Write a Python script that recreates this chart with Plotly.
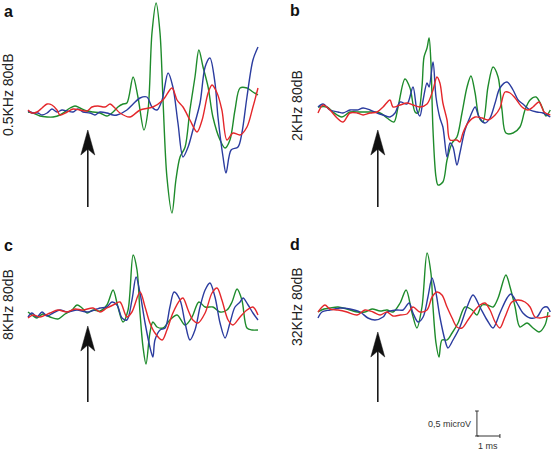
import plotly.graph_objects as go

W, H = 553, 450
PX_PER_MS = 23.0
PX_PER_UV = 50.0
STIM_MS = 2.6

GREEN = "#1e8b2b"
BLUE = "#2b3c9f"
RED = "#e4272b"

# ---------------- Panel a: 0.5 kHz 80 dB ----------------
a_green_t = [0, 0.22, 0.52, 0.83, 1.09, 1.39, 1.83, 2.04, 2.26, 2.57, 2.83, 3.13, 3.43, 3.70, 3.91, 4.13, 4.30, 4.57, 4.78, 5.04, 5.22, 5.39, 5.57, 5.74, 5.87, 6.04, 6.26, 6.43, 6.61, 6.83, 7.04, 7.26, 7.43, 7.61, 7.83, 8.04, 8.35, 8.57, 8.78, 9.00, 9.22, 9.52, 9.78, 10.0]
a_green_v = [-0.08, -0.10, -0.16, -0.18, -0.18, -0.14, 0.00, 0.04, 0.00, -0.06, -0.08, -0.10, -0.16, -0.08, 0.02, 0.08, 0.10, 0.62, 0.22, -0.44, -0.04, 1.50, 2.10, 1.50, 0.16, -1.38, -2.10, -1.44, -0.98, -0.78, -0.04, 0.62, 1.16, 0.82, 0.42, -0.18, -0.64, -0.80, -0.64, -0.04, 0.40, 0.40, 0.32, 0.26]
a_blue_t = [0, 0.22, 0.43, 0.61, 0.83, 1.04, 1.26, 1.48, 1.70, 1.96, 2.17, 2.39, 2.70, 2.91, 3.13, 3.43, 3.70, 3.87, 4.30, 4.57, 4.87, 5.17, 5.39, 5.61, 5.83, 6.09, 6.30, 6.52, 6.74, 6.96, 7.17, 7.48, 7.70, 7.91, 8.13, 8.26, 8.48, 8.61, 8.83, 9.13, 9.30, 9.52, 9.78, 10.0]
a_blue_v = [-0.06, -0.10, -0.10, -0.14, -0.10, -0.02, -0.08, -0.04, -0.06, -0.08, -0.02, -0.08, -0.10, -0.14, -0.08, -0.10, -0.14, -0.14, -0.04, 0.08, 0.20, 0.22, 0.02, -0.04, 0.16, 0.70, 0.42, -0.30, -0.98, -0.78, -0.44, 0.10, 0.82, 1.00, 0.50, -0.18, -0.98, -1.30, -0.84, -0.78, -0.50, 0.22, 0.96, 1.22]
a_red_t = [0, 0.17, 0.39, 0.61, 0.83, 1.04, 1.26, 1.39, 1.70, 1.96, 2.26, 2.57, 2.78, 3.04, 3.35, 3.57, 3.78, 4.00, 4.43, 4.87, 5.43, 5.87, 6.26, 6.48, 6.74, 7.04, 7.35, 7.57, 7.83, 8.00, 8.22, 8.43, 8.65, 8.91, 9.22, 9.52, 9.78, 10.0]
a_red_v = [-0.04, -0.10, -0.08, 0.00, 0.08, 0.06, -0.04, -0.14, -0.08, -0.02, -0.04, -0.06, 0.02, 0.04, 0.02, 0.08, 0.00, -0.10, -0.18, -0.04, 0.02, 0.16, 0.40, 0.16, 0.02, -0.24, -0.48, -0.24, 0.30, 0.46, 0.30, -0.04, -0.64, -0.50, -0.54, -0.38, 0.02, 0.40]

# ---------------- Panel b: 2 kHz 80 dB ----------------
b_green_t = [0, 0.39, 0.65, 1.04, 1.39, 1.83, 2.26, 2.70, 3.00, 3.30, 3.48, 3.78, 4.00, 4.22, 4.35, 4.52, 4.61, 4.74, 4.83, 4.91, 5.00, 5.13, 5.22, 5.43, 5.61, 5.83, 6.04, 6.26, 6.48, 6.65, 6.83, 7.00, 7.17, 7.39, 7.61, 7.83, 8.00, 8.17, 8.48, 8.78, 9.00, 9.22, 9.48, 9.74, 9.91, 10.1]
b_green_v = [0.02, 0.02, -0.08, -0.18, -0.08, -0.08, -0.08, -0.10, -0.20, -0.28, 0.02, 0.58, 0.40, -0.08, -0.10, 0.42, 1.02, 1.20, 1.40, 0.90, -0.44, -1.38, -1.54, -1.48, -1.04, -0.70, -0.58, -0.10, 0.42, 0.64, 0.30, -0.18, -0.28, 0.42, 0.82, 0.62, -0.04, -0.50, -0.50, -0.38, -0.04, 0.16, 0.22, 0.02, -0.16, -0.04]
b_blue_t = [0, 0.22, 0.52, 0.87, 1.09, 1.39, 1.70, 1.96, 2.26, 2.57, 2.83, 3.13, 3.35, 3.57, 3.87, 4.13, 4.30, 4.43, 4.57, 4.74, 4.83, 5.00, 5.13, 5.30, 5.43, 5.61, 5.74, 5.87, 6.04, 6.17, 6.39, 6.61, 6.83, 7.00, 7.26, 7.48, 7.70, 7.91, 8.22, 8.48, 8.70, 8.91, 9.22, 9.52, 9.78, 10.1]
b_blue_v = [0.02, 0.08, -0.04, -0.08, -0.10, -0.04, -0.04, 0.00, -0.04, -0.10, -0.14, -0.18, -0.10, 0.12, 0.08, 0.42, -0.04, -0.16, 0.16, 0.50, 0.42, 0.92, 0.22, -0.20, -0.38, -0.98, -0.70, -0.78, -1.14, -0.90, -0.44, -0.18, 0.02, -0.18, -0.30, -0.20, 0.10, 0.40, 0.52, 0.36, 0.16, 0.08, -0.04, -0.08, -0.10, -0.18]
b_red_t = [0, 0.22, 0.52, 0.83, 1.09, 1.39, 1.70, 1.96, 2.26, 2.57, 2.83, 3.13, 3.26, 3.57, 3.87, 4.13, 4.43, 4.74, 5.00, 5.17, 5.30, 5.43, 5.61, 5.74, 6.04, 6.17, 6.30, 6.52, 6.83, 7.13, 7.39, 7.70, 7.91, 8.13, 8.35, 8.57, 8.87, 9.13, 9.35, 9.61, 9.83, 10.1]
b_red_v = [-0.10, 0.06, -0.04, -0.20, -0.28, -0.10, -0.10, -0.14, -0.10, -0.08, 0.02, 0.16, 0.02, 0.06, 0.10, 0.06, 0.02, 0.08, 0.36, 0.62, 0.50, 0.10, -0.24, -0.64, -0.64, -0.68, -0.50, -0.30, -0.18, -0.20, -0.24, -0.14, 0.00, 0.32, 0.30, 0.20, 0.02, -0.04, 0.02, 0.12, -0.08, -0.14]

# ---------------- Panel c: 8 kHz 80 dB ----------------
c_green_t = [0, 0.17, 0.39, 0.65, 0.96, 1.30, 1.61, 1.91, 2.13, 2.35, 2.57, 2.83, 3.13, 3.43, 3.70, 3.91, 4.13, 4.35, 4.57, 4.74, 4.87, 5.00, 5.13, 5.30, 5.43, 5.61, 5.87, 6.17, 6.48, 6.83, 7.13, 7.43, 7.70, 8.04, 8.35, 8.65, 8.87, 9.09, 9.30, 9.52, 9.74, 10.0]
c_green_v = [0.10, 0.04, -0.02, 0.06, 0.00, -0.04, 0.06, 0.14, 0.24, 0.18, 0.08, 0.14, 0.12, 0.24, 0.54, 0.20, -0.10, 0.14, 1.24, 0.94, 0.08, -0.60, -0.94, -0.32, -0.10, -0.20, -0.22, -0.06, 0.04, -0.16, 0.00, 0.30, 0.20, 0.20, 0.10, 0.14, 0.30, 0.56, 0.34, -0.22, -0.26, -0.26]
c_blue_t = [0, 0.17, 0.39, 0.61, 0.83, 1.09, 1.39, 1.70, 2.13, 2.57, 3.00, 3.13, 3.43, 3.65, 3.87, 4.09, 4.30, 4.52, 4.70, 4.87, 5.09, 5.30, 5.43, 5.52, 5.74, 5.96, 6.17, 6.35, 6.61, 6.83, 7.04, 7.26, 7.48, 7.70, 7.91, 8.13, 8.35, 8.57, 8.78, 9.00, 9.22, 9.35, 9.57, 9.78, 10.0]
c_blue_v = [0.00, 0.08, 0.00, 0.10, 0.02, 0.08, 0.14, 0.10, 0.14, 0.10, 0.16, 0.18, 0.20, 0.30, 0.24, -0.02, -0.06, 0.34, 0.80, 0.48, -0.12, -0.60, -0.80, -0.46, -0.26, -0.22, 0.20, 0.50, 0.34, -0.12, -0.46, -0.26, 0.20, 0.54, 0.68, 0.40, -0.12, -0.42, -0.12, 0.20, 0.30, 0.38, 0.24, 0.08, -0.06]
c_red_t = [0, 0.22, 0.52, 0.96, 1.30, 1.70, 2.04, 2.39, 2.83, 3.13, 3.43, 3.70, 4.00, 4.30, 4.52, 4.87, 5.09, 5.30, 5.52, 5.83, 6.04, 6.30, 6.61, 6.74, 6.96, 7.17, 7.39, 7.70, 8.00, 8.22, 8.43, 8.70, 8.91, 9.22, 9.52, 9.78, 10.0]
c_red_v = [-0.02, 0.04, 0.00, 0.08, 0.14, 0.10, 0.16, 0.14, 0.18, 0.10, 0.18, 0.24, 0.30, 0.00, 0.10, 0.50, 0.20, -0.12, -0.32, -0.46, -0.26, 0.08, 0.34, 0.38, 0.14, -0.06, -0.12, 0.08, 0.48, 0.58, 0.34, -0.06, -0.16, 0.00, 0.14, 0.20, 0.04]

# ---------------- Panel d: 32 kHz 80 dB ----------------
d_green_t = [0, 0.26, 0.52, 0.87, 1.26, 1.70, 2.04, 2.35, 2.70, 3.00, 3.26, 3.57, 3.83, 4.09, 4.30, 4.52, 4.74, 4.91, 5.00, 5.13, 5.26, 5.39, 5.61, 5.83, 6.09, 6.39, 6.70, 6.91, 7.13, 7.35, 7.61, 7.83, 8.17, 8.35, 8.57, 8.78, 9.09, 9.35, 9.61, 9.87, 10.0]
d_green_v = [-0.02, 0.04, 0.06, 0.08, 0.04, -0.02, -0.02, 0.04, 0.00, 0.02, -0.02, 0.16, 0.42, -0.04, -0.34, 0.08, 1.16, 0.76, 0.08, -0.64, -0.92, -0.58, -0.58, -0.44, -0.24, 0.08, 0.02, -0.08, 0.12, 0.12, 0.08, 0.26, 0.72, 0.48, 0.08, -0.32, -0.24, -0.34, -0.42, -0.28, -0.02]
d_blue_t = [0, 0.17, 0.52, 0.96, 1.39, 1.83, 2.17, 2.48, 2.83, 3.00, 3.43, 3.70, 3.96, 4.13, 4.35, 4.57, 4.78, 4.96, 5.13, 5.30, 5.52, 5.65, 5.87, 6.17, 6.48, 6.74, 7.04, 7.35, 7.61, 7.91, 8.22, 8.39, 8.65, 8.91, 9.22, 9.52, 9.78, 9.96, 10.1]
d_blue_v = [-0.14, -0.02, 0.02, 0.06, 0.04, -0.02, -0.14, -0.18, -0.12, -0.02, 0.02, 0.02, 0.16, -0.04, -0.22, -0.12, 0.28, 0.66, 0.36, -0.12, -0.58, -0.74, -0.58, -0.32, 0.08, 0.32, 0.08, -0.18, -0.34, -0.04, 0.26, 0.34, 0.16, -0.04, -0.14, -0.12, 0.06, 0.08, -0.02]
d_red_t = [0, 0.30, 0.52, 0.87, 1.26, 1.70, 2.04, 2.39, 2.70, 3.00, 3.26, 3.57, 3.87, 4.13, 4.43, 4.74, 4.96, 5.17, 5.39, 5.61, 5.83, 6.04, 6.26, 6.52, 6.83, 7.04, 7.26, 7.48, 7.70, 7.91, 8.13, 8.43, 8.70, 9.00, 9.22, 9.43, 9.65, 9.87, 10.1]
d_red_v = [-0.02, 0.12, 0.04, 0.02, -0.02, -0.08, 0.02, -0.02, -0.08, -0.02, -0.10, -0.08, -0.06, 0.08, -0.02, 0.02, 0.28, 0.38, 0.32, 0.08, -0.14, -0.32, -0.34, -0.18, 0.02, 0.12, 0.16, 0.02, -0.22, -0.34, -0.12, 0.18, 0.22, 0.18, 0.08, -0.12, -0.14, -0.12, -0.10]

panel_letters = ["a", "b", "c", "d"]
panel_titles = ["0.5KHz 80dB", "2KHz 80dB", "8KHz 80dB", "32KHz 80dB"]

series = [
    [(a_green_t, a_green_v, GREEN), (a_blue_t, a_blue_v, BLUE), (a_red_t, a_red_v, RED)],
    [(b_green_t, b_green_v, GREEN), (b_blue_t, b_blue_v, BLUE), (b_red_t, b_red_v, RED)],
    [(c_green_t, c_green_v, GREEN), (c_blue_t, c_blue_v, BLUE), (c_red_t, c_red_v, RED)],
    [(d_green_t, d_green_v, GREEN), (d_blue_t, d_blue_v, BLUE), (d_red_t, d_red_v, RED)],
]

# arrow (stimulus onset) tip / tail in microvolts, per panel
arrow_tip_uv = [-0.44, -0.44, -0.18, -0.42]
arrow_tail_uv = [-1.98, -1.98, -1.70, -1.82]

# layout geometry (pixel boxes, origin of time axis, baseline)
boxes = [(0, 0, 275, 215), (278, 0, 553, 215), (0, 220, 275, 450), (278, 220, 553, 450)]
origins_px = [28, 318, 28, 318]
baselines_px = [108, 108, 317, 311]
letter_pos = [(8, 11), (295, 10), (8, 246), (295, 245)]
title_pos = [(8, 95), (297, 106), (8, 305), (297, 307)]

fig = go.Figure()
layout_axes = {}
shapes = []
annotations = []
FONT = "Liberation Sans, Arial, sans-serif"

for i in range(4):
    n = "" if i == 0 else str(i + 1)
    xa, ya = "x" + n, "y" + n
    left, top, right, bottom = boxes[i]
    x0 = origins_px[i]
    base = baselines_px[i]
    layout_axes["xaxis" + n] = dict(
        domain=[left / W, right / W],
        range=[(left - x0) / PX_PER_MS, (right - x0) / PX_PER_MS],
        visible=False, anchor=ya, fixedrange=True)
    layout_axes["yaxis" + n] = dict(
        domain=[1 - bottom / H, 1 - top / H],
        range=[(base - bottom) / PX_PER_UV, (base - top) / PX_PER_UV],
        visible=False, anchor=xa, fixedrange=True)
    for t, v, col in series[i]:
        fig.add_trace(go.Scatter(
            x=t, y=v, mode="lines", xaxis=xa, yaxis=ya,
            line=dict(color=col, width=1.4, shape="spline", smoothing=0.9),
            hoverinfo="skip", showlegend=False))
    # arrow shaft
    shapes.append(dict(type="line", xref=xa, yref=ya,
                       x0=STIM_MS, x1=STIM_MS,
                       y0=arrow_tail_uv[i], y1=arrow_tip_uv[i] - 0.3,
                       line=dict(color="#1a1a1a", width=1.6)))
    # arrow head (pixel-sized, anchored at the tip)
    shapes.append(dict(type="path", xref=xa, yref=ya,
                       xsizemode="pixel", ysizemode="pixel",
                       xanchor=STIM_MS, yanchor=arrow_tip_uv[i],
                       path="M0,0 L-7,-25 L0,-19 L7,-25 Z",
                       fillcolor="#111111", line=dict(color="#111111", width=0.5)))
    lx, ly = letter_pos[i]
    annotations.append(dict(text="<b>" + panel_letters[i] + "</b>", x=lx / W, y=1 - ly / H,
                            xref="paper", yref="paper", showarrow=False,
                            xanchor="center", yanchor="middle",
                            font=dict(family=FONT, size=16, color="#111111")))
    tx, ty = title_pos[i]
    annotations.append(dict(text=panel_titles[i], x=tx / W, y=1 - ty / H,
                            xref="paper", yref="paper", showarrow=False, textangle=-90,
                            xanchor="center", yanchor="middle",
                            font=dict(family=FONT, size=14, color="#222222")))

# scale bar (0.5 microV, 1 ms) in panel d coordinates
SB_T = 6.91
SB_V = -2.5
SB_DT = 1.0
SB_DV = 0.5
bar_style = dict(color="#333333", width=1)
shapes.append(dict(type="line", xref="x4", yref="y4", x0=SB_T, x1=SB_T, y0=SB_V, y1=SB_V + SB_DV, line=bar_style))
shapes.append(dict(type="line", xref="x4", yref="y4", x0=SB_T, x1=SB_T + SB_DT, y0=SB_V, y1=SB_V, line=bar_style))
shapes.append(dict(type="line", xref="x4", yref="y4", x0=SB_T - 0.08, x1=SB_T + 0.08, y0=SB_V + SB_DV, y1=SB_V + SB_DV, line=bar_style))
shapes.append(dict(type="line", xref="x4", yref="y4", x0=SB_T + SB_DT, x1=SB_T + SB_DT, y0=SB_V - 0.04, y1=SB_V + 0.04, line=bar_style))
shapes.append(dict(type="line", xref="x4", yref="y4", x0=SB_T - 0.08, x1=SB_T + 0.08, y0=SB_V, y1=SB_V, line=bar_style))
annotations.append(dict(text="0,5 microV", x=SB_T - 0.15, y=SB_V + SB_DV * 0.5, xref="x4", yref="y4",
                        showarrow=False, xanchor="right", yanchor="middle",
                        font=dict(family=FONT, size=9, color="#333333")))
annotations.append(dict(text="1 ms", x=SB_T + SB_DT * 0.5, y=SB_V - 0.05, xref="x4", yref="y4",
                        showarrow=False, xanchor="center", yanchor="top",
                        font=dict(family=FONT, size=9, color="#333333")))

fig.update_layout(
    width=W, height=H, margin=dict(l=0, r=0, t=0, b=0),
    paper_bgcolor="white", plot_bgcolor="rgba(0,0,0,0)",
    shapes=shapes, annotations=annotations, showlegend=False,
    **layout_axes)

fig.write_html("out.html", config={"displayModeBar": False, "staticPlot": True},
               post_script="document.body.style.margin='0';document.body.style.overflow='hidden';")
